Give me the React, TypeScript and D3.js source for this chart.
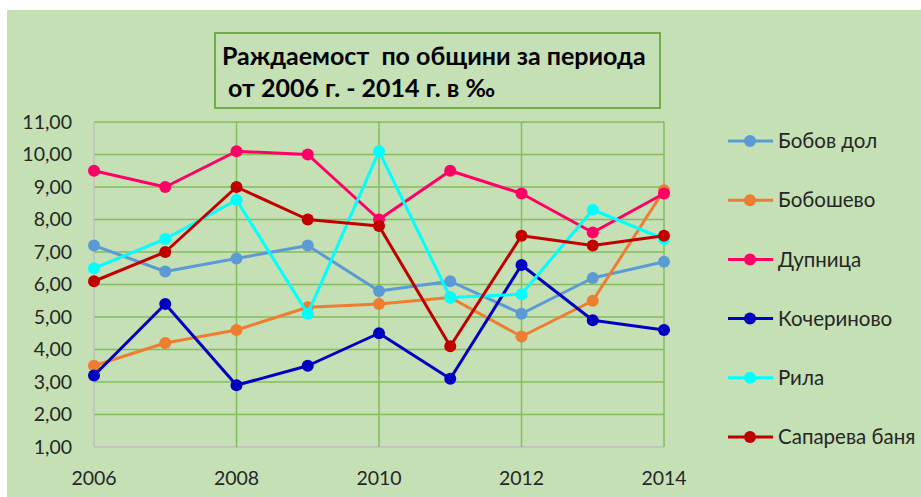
import * as React from 'react';
import * as d3 from 'd3';

// ---- data ----
const years = [2006, 2007, 2008, 2009, 2010, 2011, 2012, 2013, 2014];
const xTicks = [2006, 2008, 2010, 2012, 2014];
const yTicks = [1, 2, 3, 4, 5, 6, 7, 8, 9, 10, 11];

const bobovDol = [7.2, 6.4, 6.8, 7.2, 5.8, 6.1, 5.1, 6.2, 6.7];
const boboshevo = [3.5, 4.2, 4.6, 5.3, 5.4, 5.6, 4.4, 5.5, 8.9];
const dupnitsa = [9.5, 9.0, 10.1, 10.0, 8.0, 9.5, 8.8, 7.6, 8.8];
const kocherinovo = [3.2, 5.4, 2.9, 3.5, 4.5, 3.1, 6.6, 4.9, 4.6];
const rila = [6.5, 7.4, 8.6, 5.1, 10.1, 5.6, 5.7, 8.3, 7.4];
const saparevaBanya = [6.1, 7.0, 9.0, 8.0, 7.8, 4.1, 7.5, 7.2, 7.5];

const seriesNames = ['Бобов дол', 'Бобошево', 'Дупница', 'Кочериново', 'Рила', 'Сапарева баня'];
const seriesValues = [bobovDol, boboshevo, dupnitsa, kocherinovo, rila, saparevaBanya];
const seriesColors = ['#5B9BD5', '#ED7D31', '#FF0066', '#0000C0', '#00FFFF', '#C00000'];

const titleLines = ['Раждаемост  по общини за периода', ' от 2006 г. - 2014 г. в ‰'];

const W = 921;
const H = 497;
const font = 'Lato, Calibri, sans-serif';

export default function App() {
  const x = d3.scaleLinear().domain([2006, 2014]).range([94, 664]);
  const y = d3.scaleLinear().domain([1, 11]).range([447, 122]);
  const fmt = (v: number) => d3.format('.2f')(v).replace('.', ',');

  const line = d3
    .line<number>()
    .x((_, i) => x(years[i]))
    .y((d) => y(d));

  const legendY = d3.scalePoint<string>().domain(seriesNames).range([141, 437]);

  return (
    <svg
      width={W}
      height={H}
      style={{ position: 'absolute', left: 0, top: 0, background: '#fff' }}
    >
      <rect x={7} y={10} width={W - 7} height={H - 10} fill="#C5E0B4" />

      {/* horizontal grid */}
      {yTicks.map((t) => (
        <line key={'h' + t} x1={x(2006)} x2={x(2014)} y1={y(t)} y2={y(t)}
          stroke={t === 1 ? '#BFBFBF' : '#84BC5E'} strokeWidth={1.5} />
      ))}
      {/* vertical grid */}
      {xTicks.map((t) => (
        <line key={'v' + t} x1={x(t)} x2={x(t)} y1={y(11)} y2={y(1)}
          stroke={t === 2006 ? '#BFBFBF' : '#84BC5E'} strokeWidth={1.5} />
      ))}

      {/* y labels */}
      {yTicks.map((t) => (
        <text key={'yl' + t} x={72} y={y(t)} dy="0.35em" textAnchor="end"
          fontFamily={font} fontSize={19.5} fill="#262626">{fmt(t)}</text>
      ))}
      {/* x labels */}
      {xTicks.map((t) => (
        <text key={'xl' + t} x={x(t)} y={478} dy="0.35em" textAnchor="middle"
          fontFamily={font} fontSize={19.5} fill="#262626">{t}</text>
      ))}

      {/* series */}
      {seriesValues.map((vals, si) => (
        <g key={'s' + si}>
          <path d={line(vals) || ''} fill="none" stroke={seriesColors[si]} strokeWidth={3}
            strokeLinejoin="round" />
          {vals.map((v, i) => (
            <circle key={i} cx={x(years[i])} cy={y(v)} r={6} fill={seriesColors[si]} />
          ))}
        </g>
      ))}

      {/* title */}
      <rect x={215} y={33} width={445} height={75} fill="#C5E0B4" stroke="#70AD47" strokeWidth={2} />
      {titleLines.map((t, i) => (
        <text key={'t' + i} x={222} y={56 + i * 32} dy="0.35em" fontFamily={font} fontWeight="bold"
          fontSize={25} fill="#000" style={{ whiteSpace: 'pre' }}>
          {t}
        </text>
      ))}

      {/* legend */}
      {seriesNames.map((n, i) => {
        const ly = legendY(n) as number;
        return (
          <g key={'lg' + n}>
            <line x1={728} x2={773} y1={ly} y2={ly} stroke={seriesColors[i]} strokeWidth={3} />
            <circle cx={750} cy={ly} r={6} fill={seriesColors[i]} />
            <text x={778} y={ly} dy="0.35em" fontFamily={font} fontSize={20.5} fill="#262626">{n}</text>
          </g>
        );
      })}
    </svg>
  );
}
